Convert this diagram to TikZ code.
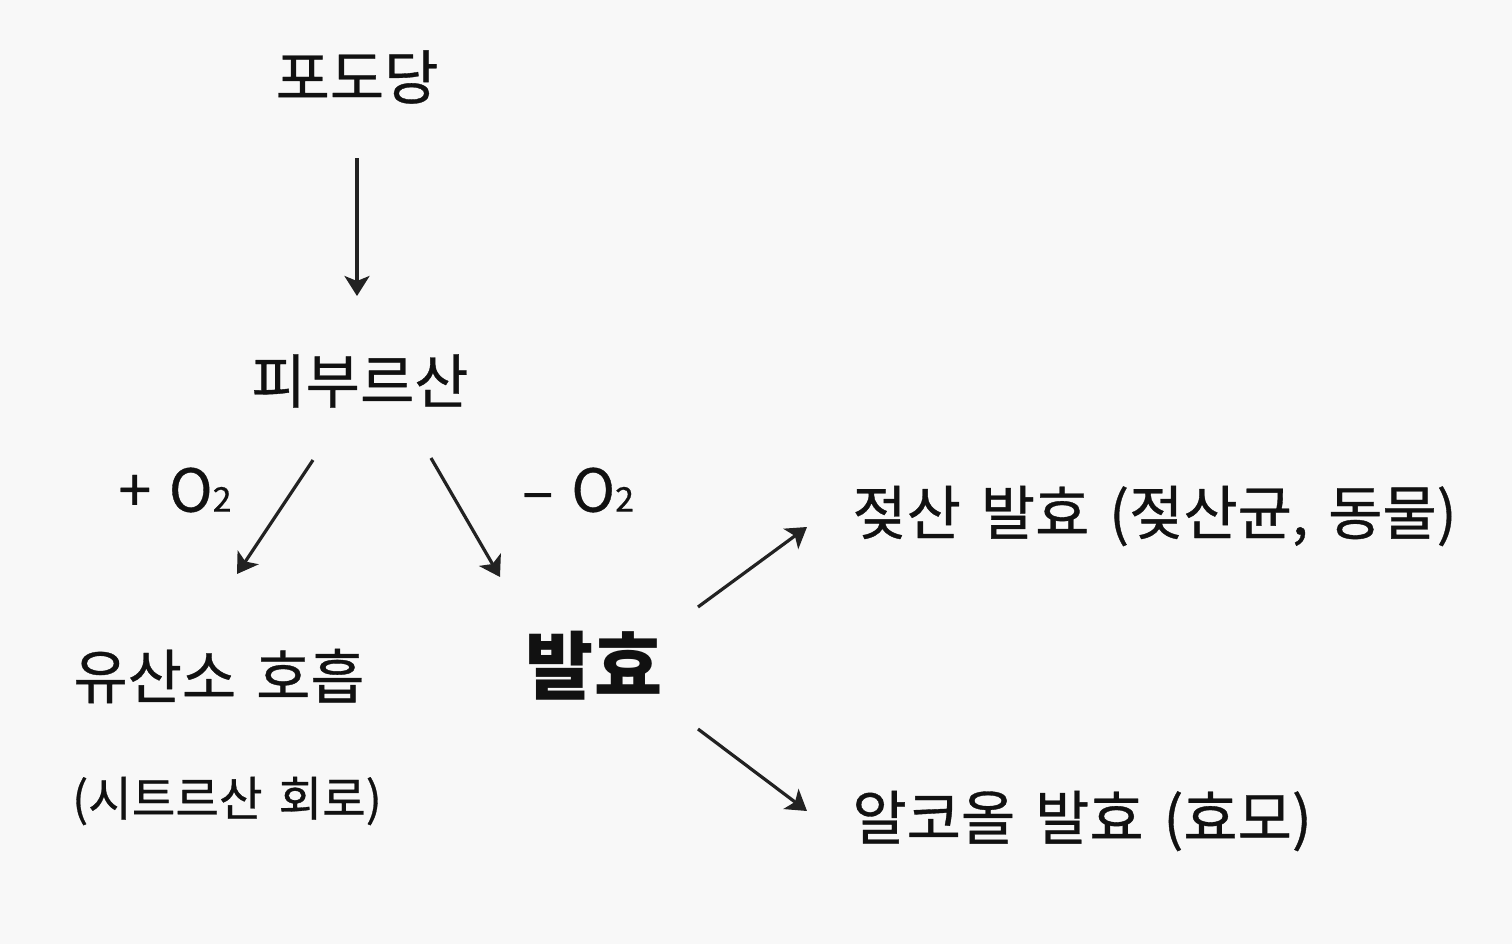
\documentclass[tikz,border=0pt]{standalone}
\usepackage{fontspec}
\setmainfont[WordSpace = 1.5, UprightFeatures = {FakeBold = 0.6}]{Noto Sans CJK KR}
\usetikzlibrary{arrows.meta}
\definecolor{bg}{HTML}{F8F8F8}
\definecolor{ink}{HTML}{111111}
\definecolor{arr}{HTML}{222222}
\newcommand{\lbl}{\fontsize{29.5}{33}\selectfont}
\newcommand{\sublbl}{\fontsize{23.7}{27}\selectfont}
\newcommand{\oxy}[1]{#1\hspace{0.3em}O{\fontsize{17}{20}\selectfont 2}}

\begin{document}
\begin{tikzpicture}[x=0.5pt, y=-0.5pt,
        every node/.style = {text = ink, inner sep = 0pt},
        flow/.style = {-{Stealth[length = 10pt, width = 12.5pt, inset = 2.5pt]}, line width = 1.6pt, draw = arr}]
            \fill [bg] (0, 0) rectangle (1512, 944);
            \useasboundingbox (0, 0) rectangle (1512, 944);

            \node (glc) at (357, 77) {\lbl 포도당};
            \node (pyr) at (360, 381) {\lbl 피부르산};
            \node (aer) at (219, 676) {\lbl 유산소 호흡};
            \node (tca) at (227, 801) {\sublbl (시트르산 회로)};
            \node (fer) at (594, 666) {\fontsize{37}{40}\selectfont\bfseries 발효};
            \node (lac) [anchor = west] at (852, 516) {\lbl 젖산 발효 (젖산균, 동물)};
            \node (alc) [anchor = west] at (852, 821) {\lbl 알코올 발효 (효모)};

            \node (plus) at (175, 490) {\lbl \oxy{+}};
            \node (minus) at (578, 490) {\lbl \oxy{--}};

            \coordinate (a) at (357, 158);
            \coordinate (b) at (357, 296);
            \coordinate (c) at (313, 460);
            \coordinate (d) at (237, 574);
            \coordinate (e) at (431, 458);
            \coordinate (f) at (500, 577);
            \coordinate (g) at (698, 607);
            \coordinate (h) at (807, 527);
            \coordinate (i) at (698, 729);
            \coordinate (j) at (807, 811);

            \draw [flow] (a) -- (b);
            \draw [flow] (c) -- (d);
            \draw [flow] (e) -- (f);
            \draw [flow] (g) -- (h);
            \draw [flow] (i) -- (j);
        \end{tikzpicture}
\end{document}
